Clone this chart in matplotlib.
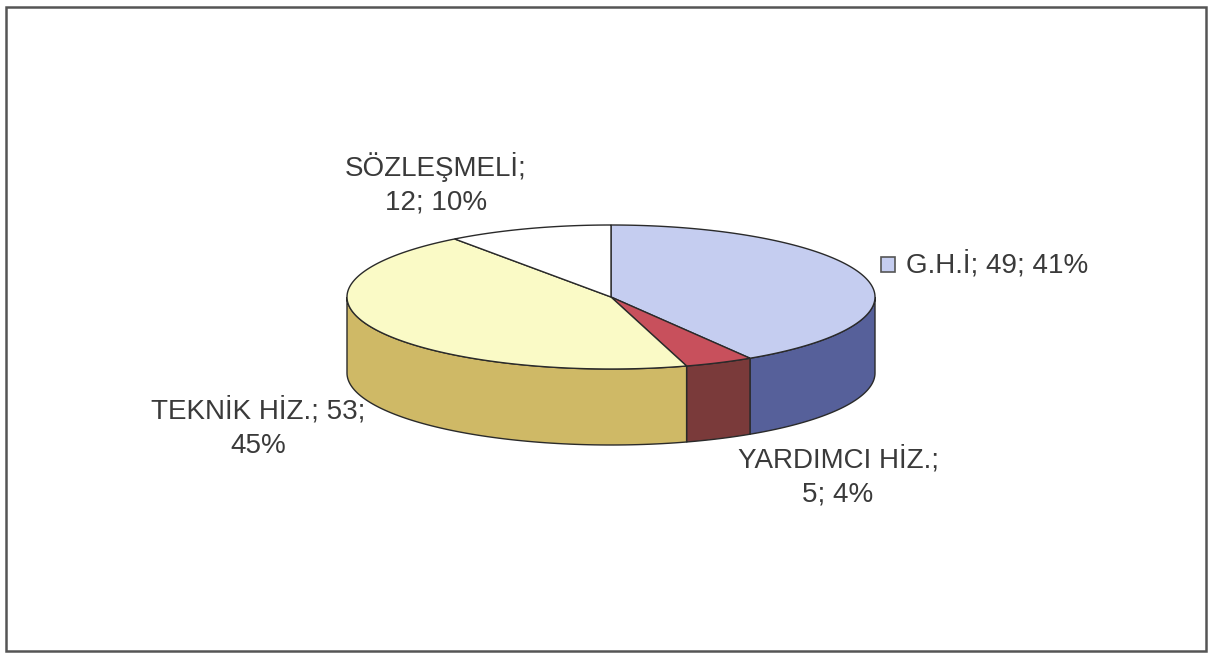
import numpy as np
import matplotlib.pyplot as plt
from matplotlib.patches import Polygon, Rectangle

# data
labels = ["G.H.İ", "YARDIMCI HİZ.", "TEKNİK HİZ.", "SÖZLEŞMELİ"]
counts = [49, 5, 53, 12]
percents = [41, 4, 45, 10]

top_colors = ["#c5cdf0", "#c8505c", "#fafac6", "#ffffff"]
side_colors = ["#56609a", "#7a3a3a", "#cfb966", "#dddddd"]

plt.rcParams['font.family'] = ['Liberation Sans', 'DejaVu Sans']

fig = plt.figure(figsize=(12.08, 6.53), dpi=100)
ax = fig.add_axes([0, 0, 1, 1])
ax.set_xlim(0, 1208)
ax.set_ylim(653, 0)
ax.axis('off')

# pie geometry (pixels)
cx, cy = 611, 297
a, b = 264, 72
depth = 76
edge = "#2a2a2a"


def rim(t):
    t = np.radians(t)
    return cx + a * np.cos(t), cy - b * np.sin(t)


total = float(sum(counts))
angles = [90.0]
for c in counts:
    angles.append(angles[-1] - 360.0 * c / total)

# side walls (front half only)
for i in range(len(counts)):
    t0, t1 = angles[i], angles[i + 1]
    lo, hi = max(t1, -180.0), min(t0, 0.0)
    if hi <= lo:
        continue
    ts = np.linspace(hi, lo, 80)
    xs, ys = rim(ts)
    pts = list(zip(xs, ys)) + list(zip(xs[::-1], ys[::-1] + depth))
    ax.add_patch(Polygon(pts, closed=True, facecolor=side_colors[i],
                         edgecolor=edge, lw=1.0, zorder=2))

# top faces
for i in range(len(counts)):
    t0, t1 = angles[i], angles[i + 1]
    ts = np.linspace(t0, t1, 200)
    xs, ys = rim(ts)
    pts = [(cx, cy)] + list(zip(xs, ys))
    ax.add_patch(Polygon(pts, closed=True, facecolor=top_colors[i],
                         edgecolor=edge, lw=1.0, zorder=3))

# labels
tc = "#3a3a3a"
fs = 20
ls = 1.38
ax.add_patch(Rectangle((881, 257), 14, 15, facecolor=top_colors[0],
                       edgecolor="#555555", lw=1.2, zorder=4))
ax.text(906, 265, f"{labels[0]}; {counts[0]}; {percents[0]}%", fontsize=fs,
        color=tc, ha='left', va='center')
ax.text(838, 477, f"{labels[1]};\n{counts[1]}; {percents[1]}%", fontsize=fs,
        color=tc, ha='center', va='center', linespacing=ls)
ax.text(258, 428, f"{labels[2]}; {counts[2]};\n{percents[2]}%", fontsize=fs,
        color=tc, ha='center', va='center', linespacing=ls)
ax.text(436, 184, f"{labels[3]};\n{counts[3]}; {percents[3]}%", fontsize=fs,
        color=tc, ha='center', va='center', linespacing=ls)

# chart frame
ax.add_patch(Rectangle((6, 7), 1200, 644, facecolor='none',
                       edgecolor="#555555", lw=1.8, zorder=1))

fig.savefig("out.png", dpi=100)
